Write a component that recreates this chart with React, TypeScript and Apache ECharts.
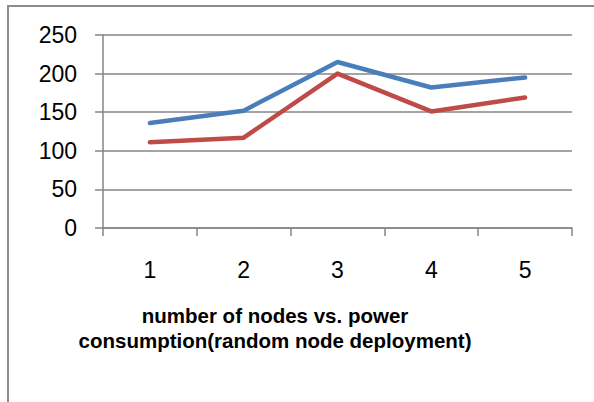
import React, { useEffect, useRef } from "react";
import * as echarts from "echarts";

const categories = ["1", "2", "3", "4", "5"];
const seriesBlue = [136, 152, 215, 182, 195];
const seriesRed = [111, 117, 200, 151, 169];
const yTicks = { min: 0, max: 250, interval: 50 };
const titleLines = ["number of nodes vs. power", "consumption(random node deployment)"];

export default function App() {
  const ref = useRef<HTMLDivElement>(null);
  useEffect(() => {
    if (!ref.current) return;
    const chart = echarts.init(ref.current, null, { renderer: "svg" });
    const axisColor = "#868686";
    const titleFont = "bold 20.5px 'Liberation Sans'";
    chart.setOption({
      animation: false,
      backgroundColor: "#ffffff",
      grid: { left: 103, right: 22, top: 35, bottom: 174, containLabel: false },
      xAxis: {
        type: "category",
        data: categories,
        boundaryGap: true,
        axisLine: { show: true, lineStyle: { color: axisColor, width: 1.5 } },
        axisTick: { show: true, length: 8, alignWithLabel: false, lineStyle: { color: axisColor, width: 1.5 } },
        axisLabel: { color: "#000", fontSize: 23, fontFamily: "Liberation Sans", margin: 30 },
        splitLine: { show: false },
      },
      yAxis: {
        type: "value",
        min: yTicks.min,
        max: yTicks.max,
        interval: yTicks.interval,
        axisLine: { show: true, lineStyle: { color: axisColor, width: 1.5 } },
        axisTick: { show: true, length: 8, lineStyle: { color: axisColor, width: 1.5 } },
        axisLabel: { color: "#000", fontSize: 23, fontFamily: "Liberation Sans", margin: 26 },
        splitLine: { show: true, lineStyle: { color: axisColor, width: 1.5 } },
      },
      series: [
        {
          type: "line",
          data: seriesBlue,
          symbol: "none",
          lineStyle: { color: "#4A7EBB", width: 4.5, cap: "round", join: "round" },
          z: 3,
        },
        {
          type: "line",
          data: seriesRed,
          symbol: "none",
          lineStyle: { color: "#BE4B48", width: 4.5, cap: "round", join: "round" },
          z: 2,
        },
      ],
      graphic: [
        {
          type: "rect",
          shape: { x: 8, y: 6, width: 620, height: 430 },
          style: { fill: "none", stroke: "#8c8c8c", lineWidth: 2 },
          silent: true,
        },
        {
          type: "text",
          x: 275,
          y: 315,
          style: {
            text: titleLines[0],
            font: titleFont,
            fill: "#000",
            align: "center",
            verticalAlign: "middle",
          },
        },
        {
          type: "text",
          x: 275,
          y: 340,
          style: {
            text: titleLines[1],
            font: titleFont,
            fill: "#000",
            align: "center",
            verticalAlign: "middle",
          },
        },
      ],
    });
    return () => chart.dispose();
  }, []);
  return (
    <div
      ref={ref}
      style={{ position: "fixed", left: 0, top: 0, width: 594, height: 402 }}
    />
  );
}
